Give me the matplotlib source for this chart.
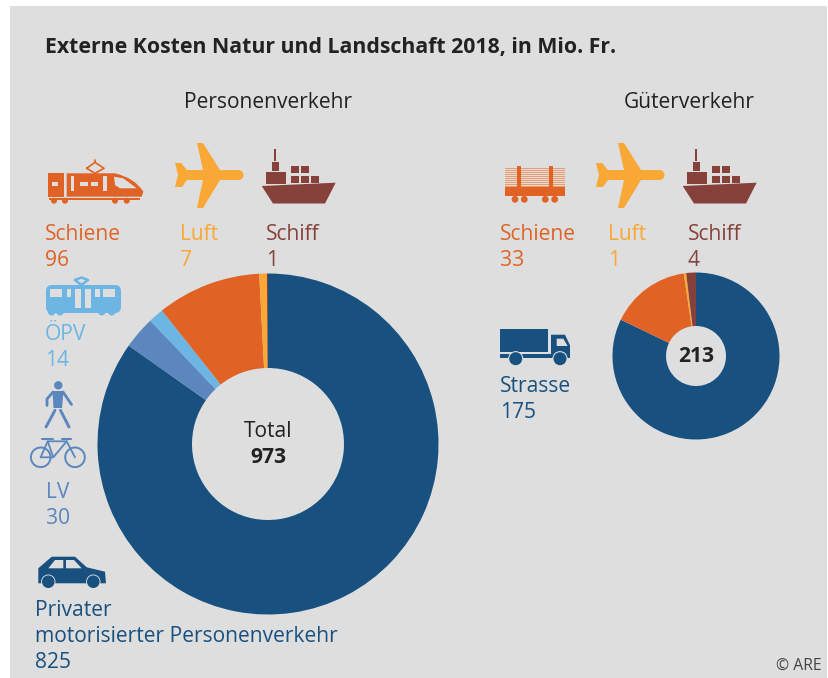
import matplotlib
matplotlib.use('Agg')
import matplotlib.pyplot as plt
from matplotlib.patches import Circle, Polygon, Rectangle, FancyBboxPatch, PathPatch
from matplotlib.path import Path

W, H = 829, 678
BG = '#dedede'
DARK = '#18507f'
MID = '#5b86be'
LIGHT = '#6db5e3'
ORANGE = '#e06325'
YELLOW = '#f9a836'
BROWN = '#86413a'

# Personenverkehr
pers_labels = ['Privater\nmotorisierter Personenverkehr', 'LV', 'ÖPV', 'Schiene', 'Luft', 'Schiff']
pers_values = [825, 30, 14, 96, 7, 1]
pers_colors = [DARK, MID, LIGHT, ORANGE, YELLOW, BROWN]
pers_total = 973

# Güterverkehr
gueter_labels = ['Strasse', 'Schiene', 'Luft', 'Schiff']
gueter_values = [175, 33, 1, 4]
gueter_colors = [DARK, ORANGE, YELLOW, BROWN]
gueter_total = 213

plt.rcParams['font.family'] = ['Open Sans', 'DejaVu Sans']

fig = plt.figure(figsize=(W / 100, H / 100), dpi=100, facecolor='white')

# background panel
ax = fig.add_axes([0, 0, 1, 1])
ax.set_xlim(0, W)
ax.set_ylim(H, 0)
ax.axis('off')
ax.add_patch(Rectangle((10, 6), 817, 672, fc=BG, ec='none'))


def donut(cx, cy, r, r_in, values, colors):
    pie_ax = fig.add_axes([(cx - r) / W, 1 - (cy + r) / H, 2 * r / W, 2 * r / H])
    pie_ax.pie(values, colors=colors, startangle=90, counterclock=False, radius=1,
               wedgeprops=dict(width=1 - r_in / r, linewidth=0))
    pie_ax.set_xlim(-1, 1)
    pie_ax.set_ylim(-1, 1)
    pie_ax.set_zorder(1)


donut(268, 444, 170.5, 76, pers_values, pers_colors)
donut(696, 356, 83.5, 30, gueter_values, gueter_colors)

# text and icons have to sit above the pies
top = fig.add_axes([0, 0, 1, 1])
top.set_xlim(0, W)
top.set_ylim(H, 0)
top.axis('off')
top.patch.set_alpha(0)
top.set_zorder(2)


def label(x, y, s, color, size=15.1, **kw):
    top.text(x, y + 2, s, color=color, fontsize=size, va='center', ha=kw.pop('ha', 'left'), **kw)


def poly(pts, color, dx=0, dy=0):
    top.add_patch(Polygon([(x + dx, y + dy) for x, y in pts], closed=True, fc=color, ec='none'))


def rect(x0, y0, x1, y1, color):
    top.add_patch(Rectangle((x0, y0), x1 - x0, y1 - y0, fc=color, ec='none'))


def circ(x, y, r, color):
    top.add_patch(Circle((x, y), r, fc=color, ec='none'))


def line(pts, color, lw=1.6):
    top.plot([p[0] for p in pts], [p[1] for p in pts], color=color, lw=lw, solid_capstyle='round')


def plane(dx):
    poly([(197, 143), (203, 143), (220, 170), (238, 170), (243, 175), (238, 180), (220, 180),
          (203, 208), (197, 208), (203, 180), (187, 180), (182, 187), (175, 187), (178, 175),
          (175, 163), (181, 163), (187, 170), (203, 170)], YELLOW, dx)
    circ(238.5 + dx, 175, 5, YELLOW)


def ship(dx):
    poly([(261.7, 186), (335.7, 182.7), (325, 203.5), (273, 203.5)], BROWN, dx)
    rect(265.7 + dx, 172.3, 285.7 + dx, 183.5, BROWN)
    rect(271.7 + dx, 161.5, 279 + dx, 170.9, BROWN)
    rect(274.3 + dx, 149.3, 276.3 + dx, 161.5, BROWN)
    for cx, cy in [(291.5, 165.5), (301.5, 165.5), (291.5, 175.5), (301.5, 175.5), (311.5, 175.5)]:
        rect(cx + dx, cy, cx + 7.8 + dx, cy + 7.6, BROWN)


def train():
    rect(48.3, 173.3, 64, 196.7, ORANGE)
    verts = [(66.7, 173.3), (115, 173.3), (135, 178), (143.3, 191.7), (141.7, 196.7), (66.7, 196.7), (66.7, 173.3)]
    codes = [Path.MOVETO, Path.LINETO, Path.CURVE3, Path.CURVE3, Path.LINETO, Path.LINETO, Path.CLOSEPOLY]
    top.add_patch(PathPatch(Path(verts, codes), fc=ORANGE, ec='none'))
    rect(49, 197.7, 140, 200.3, ORANGE)
    rect(51.7, 181.7, 58.3, 185.7, BG)
    rect(71, 175.7, 74.3, 191, BG)
    rect(80, 181.7, 88.3, 185.7, BG)
    rect(90.7, 181.7, 98.3, 185.7, BG)
    rect(103.3, 175.7, 106.7, 191, BG)
    poly([(114, 176.7), (123.3, 178.3), (136.7, 188.3), (120, 188.3), (115, 185)], BG)
    for wx in [54, 65, 115, 126.7]:
        circ(wx, 200.7, 3, ORANGE)
    line([(86.7, 168.3), (95, 162.3), (104, 168.3), (95, 173.3), (86.7, 168.3)], ORANGE, 1.2)
    line([(95, 160), (95, 162.3)], ORANGE, 1.2)


def log_wagon():
    for y in [167.5, 169.5, 171.5, 173.5, 175.5, 177.5, 179.5, 181.5, 183.5, 185.5]:
        rect(505, y, 565, y + 1.2, '#ec9a6c')
    rect(505, 187.3, 565, 196, ORANGE)
    rect(517.3, 166, 520.7, 188, ORANGE)
    rect(549.3, 166, 552.7, 188, ORANGE)
    for wx in [515, 524.3, 545.3, 554.7]:
        circ(wx, 199.3, 3.4, ORANGE)


def tram():
    top.add_patch(FancyBboxPatch((49, 288), 69, 22, boxstyle='round,pad=3,rounding_size=6', fc=LIGHT, ec='none'))
    rect(50, 289, 62.3, 297, BG)
    rect(66.7, 289, 71, 297, BG)
    rect(75, 289, 80.7, 308, BG)
    rect(85, 289, 90.7, 308, BG)
    rect(95, 289, 100, 297, BG)
    rect(103, 289, 115, 297, BG)
    for wx in [51.7, 60, 101.7, 111.7]:
        circ(wx, 311.7, 3.8, LIGHT)
    line([(75, 280), (81.5, 277.5), (88, 280), (81.5, 285), (75, 280)], LIGHT, 1.8)


def walker():
    circ(58.3, 385.3, 4.2, MID)
    poly([(52.5, 391), (63.5, 391), (62, 408), (53.5, 408)], MID)
    line([(63, 392), (71.5, 404.5)], MID, 2.0)
    line([(53, 392), (47, 399), (47, 405.5)], MID, 2.0)
    line([(55, 410.3), (46, 427)], MID, 2.1)
    line([(60.5, 410.3), (69, 427)], MID, 2.1)


def bike():
    for wx in [40.7, 75]:
        top.add_patch(Circle((wx, 457.3), 9.8, fc='none', ec=MID, lw=1.4))
    line([(40.7, 457.3), (53.3, 457.3), (66.7, 441.3), (75, 457.3)], MID, 1.3)
    line([(40.7, 457.3), (47.7, 441.3), (66.7, 441.3)], MID, 1.3)
    line([(47.7, 441.3), (53.3, 457.3)], MID, 1.3)
    line([(42.3, 439), (53.3, 439)], MID, 1.5)
    line([(62.3, 439), (71, 439)], MID, 1.5)


def car():
    poly([(38.3, 580), (38.3, 568.3), (51.7, 556.7), (75, 556.7), (86.7, 567.3), (105, 571.7),
          (106, 583.3), (38.3, 583.3)], DARK)
    poly([(48.3, 568.3), (55, 560), (63.3, 560), (63.3, 568.3)], BG)
    poly([(66, 560), (74, 560), (81.7, 568.3), (66, 568.3)], BG)
    for wx in [48.3, 93.3]:
        circ(wx, 581.7, 7.2, BG)
        circ(wx, 581.7, 6.3, DARK)


def truck():
    rect(500, 329.3, 547.7, 352, DARK)
    poly([(551, 334.7), (565, 334.7), (570, 345.3), (570, 358), (551, 358)], DARK)
    poly([(556.7, 338.7), (563.3, 338.7), (567.7, 346), (556.7, 346)], BG)
    rect(500, 354.3, 570, 358, DARK)
    for wx in [515.7, 560]:
        circ(wx, 358.7, 7.6, BG)
        circ(wx, 358.7, 6.5, DARK)


plane(0)
plane(421)
ship(0)
ship(421)
train()
log_wagon()
tram()
walker()
bike()
car()
truck()

top.text(45, 47, 'Externe Kosten Natur und Landschaft 2018, in Mio. Fr.', color='#222222',
         fontsize=15.3, fontweight='bold', va='center')
label(268, 101, 'Personenverkehr', '#222222', ha='center')
label(689, 101, 'Güterverkehr', '#222222', ha='center')

label(45, 232, pers_labels[3], ORANGE)
label(45, 258, str(pers_values[3]), ORANGE)
label(180, 232, pers_labels[4], YELLOW)
label(180, 258, str(pers_values[4]), YELLOW)
label(266, 232, pers_labels[5], BROWN)
label(266, 258, str(pers_values[5]), BROWN)
label(45, 332, pers_labels[2], LIGHT)
label(45, 358, str(pers_values[2]), LIGHT)
label(58, 491, pers_labels[1], MID, ha='center')
label(58, 516, str(pers_values[1]), MID, ha='center')
label(35, 609, 'Privater', DARK)
label(35, 634, 'motorisierter Personenverkehr', DARK)
label(35, 660, str(pers_values[0]), DARK)

label(500, 232, gueter_labels[1], ORANGE)
label(500, 258, str(gueter_values[1]), ORANGE)
label(608, 232, gueter_labels[2], YELLOW)
label(608, 258, str(gueter_values[2]), YELLOW)
label(688, 232, gueter_labels[3], BROWN)
label(688, 258, str(gueter_values[3]), BROWN)
label(500, 384, gueter_labels[0], DARK)
label(500, 410, str(gueter_values[0]), DARK)

label(268, 429.5, 'Total', '#222222', ha='center')
label(268, 455.5, str(pers_total), '#222222', ha='center', fontweight='bold')
label(696, 355, str(gueter_total), '#222222', ha='center', fontweight='bold')
label(822, 664, '© ARE', '#444444', size=11.3, ha='right')

fig.savefig('out.png', dpi=100)
